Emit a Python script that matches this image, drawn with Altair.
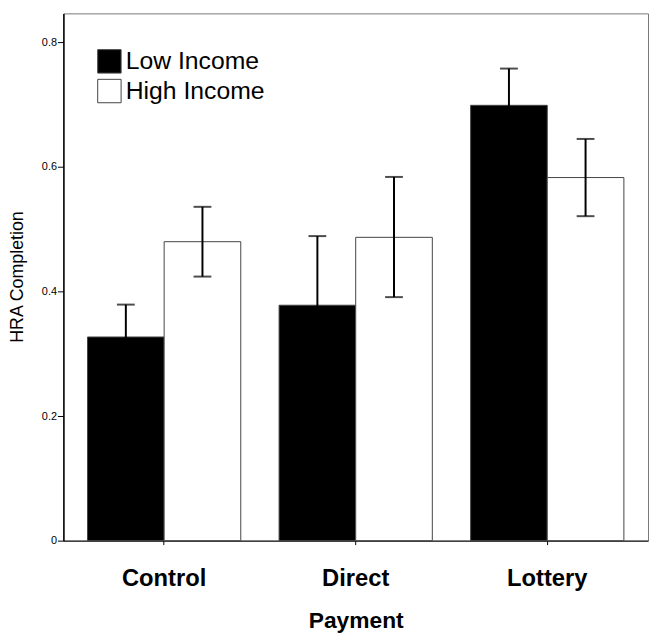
import altair as alt
import pandas as pd

payment = ["Control", "Control", "Direct", "Direct", "Lottery", "Lottery"]
income = ["Low Income", "High Income", "Low Income", "High Income", "Low Income", "High Income"]
completion = [0.327, 0.480, 0.378, 0.487, 0.699, 0.583]
err_low = [0.275, 0.424, 0.267, 0.391, 0.641, 0.521]
err_high = [0.379, 0.536, 0.489, 0.584, 0.758, 0.645]

df = pd.DataFrame({
    "Payment": payment,
    "Income": income,
    "Completion": completion,
    "lo": err_low,
    "hi": err_high,
})

font = "Liberation Sans"
order = ["Low Income", "High Income"]
cats = ["Control", "Direct", "Lottery"]

x = alt.X("Payment:N", sort=cats,
          scale=alt.Scale(paddingInner=0.2, paddingOuter=0.126),
          axis=alt.Axis(title="Payment", labelAngle=0, labelFont=font, labelFontSize=24,
                        labelFontWeight="bold", labelColor="black", labelPadding=22,
                        tickSize=4, tickColor="black", domainColor="black",
                        titleFont=font, titleFontSize=23, titleFontWeight="bold",
                        titleColor="black", titlePadding=20))
xo = alt.XOffset("Income:N", sort=order, scale=alt.Scale(paddingInner=0, paddingOuter=0))

y = alt.Y("Completion:Q", scale=alt.Scale(domain=[0, 0.8466], nice=False, zero=True),
          axis=alt.Axis(title="HRA Completion", values=[0, 0.2, 0.4, 0.6, 0.8],
                        labelExpr="datum.value == 0 ? '0' : format(datum.value, '.1f')",
                        labelFont=font, labelFontSize=11, labelColor="black", labelPadding=1,
                        tickSize=6, tickColor="black", domainColor="black", domainWidth=1.5,
                        grid=False, titleFont=font, titleFontSize=18, titleColor="black",
                        titleFontWeight="normal", titleAngle=-90, titleX=-46, titleY=266,
                        titleAlign="center", titleBaseline="middle"))

bars = alt.Chart(df).mark_bar(stroke="#444", strokeWidth=1).encode(
    x=x, xOffset=xo, y=y,
    fill=alt.Fill("Income:N", sort=order,
                  scale=alt.Scale(domain=order, range=["black", "white"]),
                  legend=alt.Legend(title=None, orient="none", legendX=34, legendY=36,
                                    symbolType="square", symbolSize=560,
                                    symbolStrokeColor="#444", symbolStrokeWidth=1,
                                    labelFont=font, labelFontSize=25, labelColor="black",
                                    labelOffset=4, rowPadding=1, padding=0)),
)

rules = alt.Chart(df).mark_rule(color="black", strokeWidth=2).encode(
    x=alt.X("Payment:N", sort=cats), xOffset=xo,
    y=alt.Y("lo:Q"), y2="hi:Q",
)
caps_hi = alt.Chart(df).mark_tick(color="black", size=18, thickness=2).encode(
    x=alt.X("Payment:N", sort=cats), xOffset=xo,
    y=alt.Y("hi:Q"),
)
caps_lo = alt.Chart(df).mark_tick(color="black", size=18, thickness=2).encode(
    x=alt.X("Payment:N", sort=cats), xOffset=xo,
    y=alt.Y("lo:Q"),
)

chart = alt.layer(bars, rules, caps_hi, caps_lo).properties(
    width=591, height=533,
    autosize=alt.AutoSizeParams(type="none"),
    padding={"left": 56, "top": 2, "right": 1, "bottom": 97},
    background="white",
).configure_view(stroke="#777", strokeWidth=1)

chart.save("out.html", embed_options={"renderer": "svg", "actions": False})
